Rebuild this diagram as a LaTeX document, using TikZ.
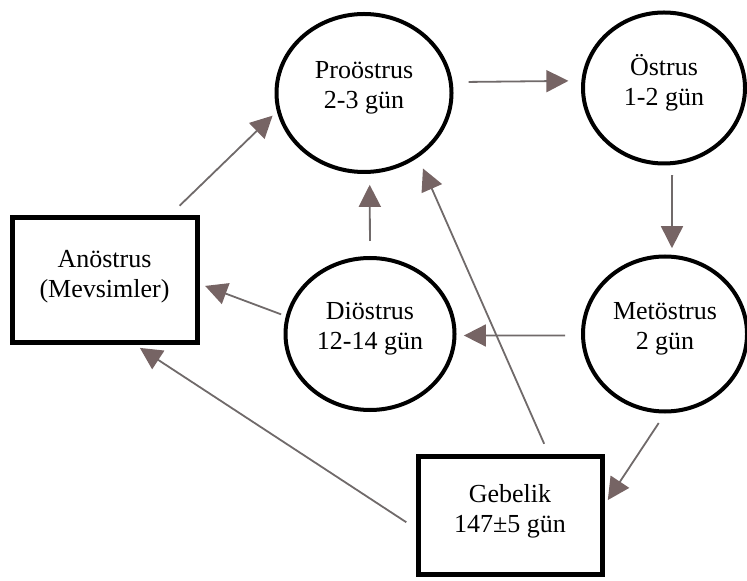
\documentclass[tikz,border=0pt]{standalone}
\usepackage{fontspec}
\setmainfont{Liberation Serif}
\usetikzlibrary{shapes.geometric, arrows.meta}

\definecolor{linegray}{RGB}{112,106,106}
\definecolor{tipgray}{RGB}{118,100,100}

\begin{document}
\begin{tikzpicture}[
    x=0.5pt, y=-0.5pt,
    phase/.style    = {ellipse, draw, line width=2pt, inner sep=0pt,
                       align=center, text depth=8pt,
                       font=\fontsize{13}{15}\selectfont},
    statebox/.style = {rectangle, draw, line width=2.5pt, inner sep=0pt,
                       align=center, text depth=7pt,
                       font=\fontsize{13}{15}\selectfont},
    arr/.style      = {-{Triangle[length=11pt,width=11pt,color=tipgray]},
                       draw=linegray, line width=0.9pt}
]
\useasboundingbox (0,0) rectangle (747,581);

%% ---- cycle phases ----
\node[phase, minimum width=87.5pt, minimum height=79pt]   (pro) at (364,93)  {Proöstrus\\2-3 gün};
\node[phase, minimum width=81pt,   minimum height=75.5pt] (est) at (664,88)  {Östrus\\1-2 gün};
\node[phase, minimum width=82pt,   minimum height=77.5pt] (met) at (665,334) {Metöstrus\\2 gün};
\node[phase, minimum width=84.5pt, minimum height=76pt]   (dio) at (370,334) {Diöstrus\\12-14 gün};

%% ---- resting states ----
\node[statebox, minimum width=92.5pt, minimum height=62.5pt] (ano) at (104.5,280.5) {Anöstrus\\(Mevsimler)};
\node[statebox, minimum width=92pt,   minimum height=59pt]   (geb) at (510,515)     {Gebelik\\147±5 gün};

%% ---- main loop ----
\draw[arr, shorten <=8pt,   shorten >=6.5pt] (pro.7)   -- (est.175);
\draw[arr, shorten <=5pt,   shorten >=3.3pt] (est.276) -- (met.85);
\draw[arr, shorten <=8pt,   shorten >=3.7pt] (met.181) -- (dio.359);
\draw[arr, shorten <=7.5pt, shorten >=5.5pt] (dio.90)  -- (pro.274);

%% ---- into and out of anöstrus ----
\draw[arr, shorten <=2.5pt, shorten >=3pt]   (dio.168) -- (ano.358);
\draw[arr, shorten <=7pt,   shorten >=3pt]   (ano.45)  -- (pro.192);

%% ---- pregnancy ----
\draw[arr, shorten <=5.7pt, shorten >=3pt]   (met.270) -- (geb.6);
\draw[arr, shorten <=5.3pt, shorten >=6pt]   (geb.58)  -- (pro.310);
\draw[arr, shorten <=5.5pt, shorten >=2.2pt] (geb.188) -- (ano.296);

\end{tikzpicture}
\end{document}
